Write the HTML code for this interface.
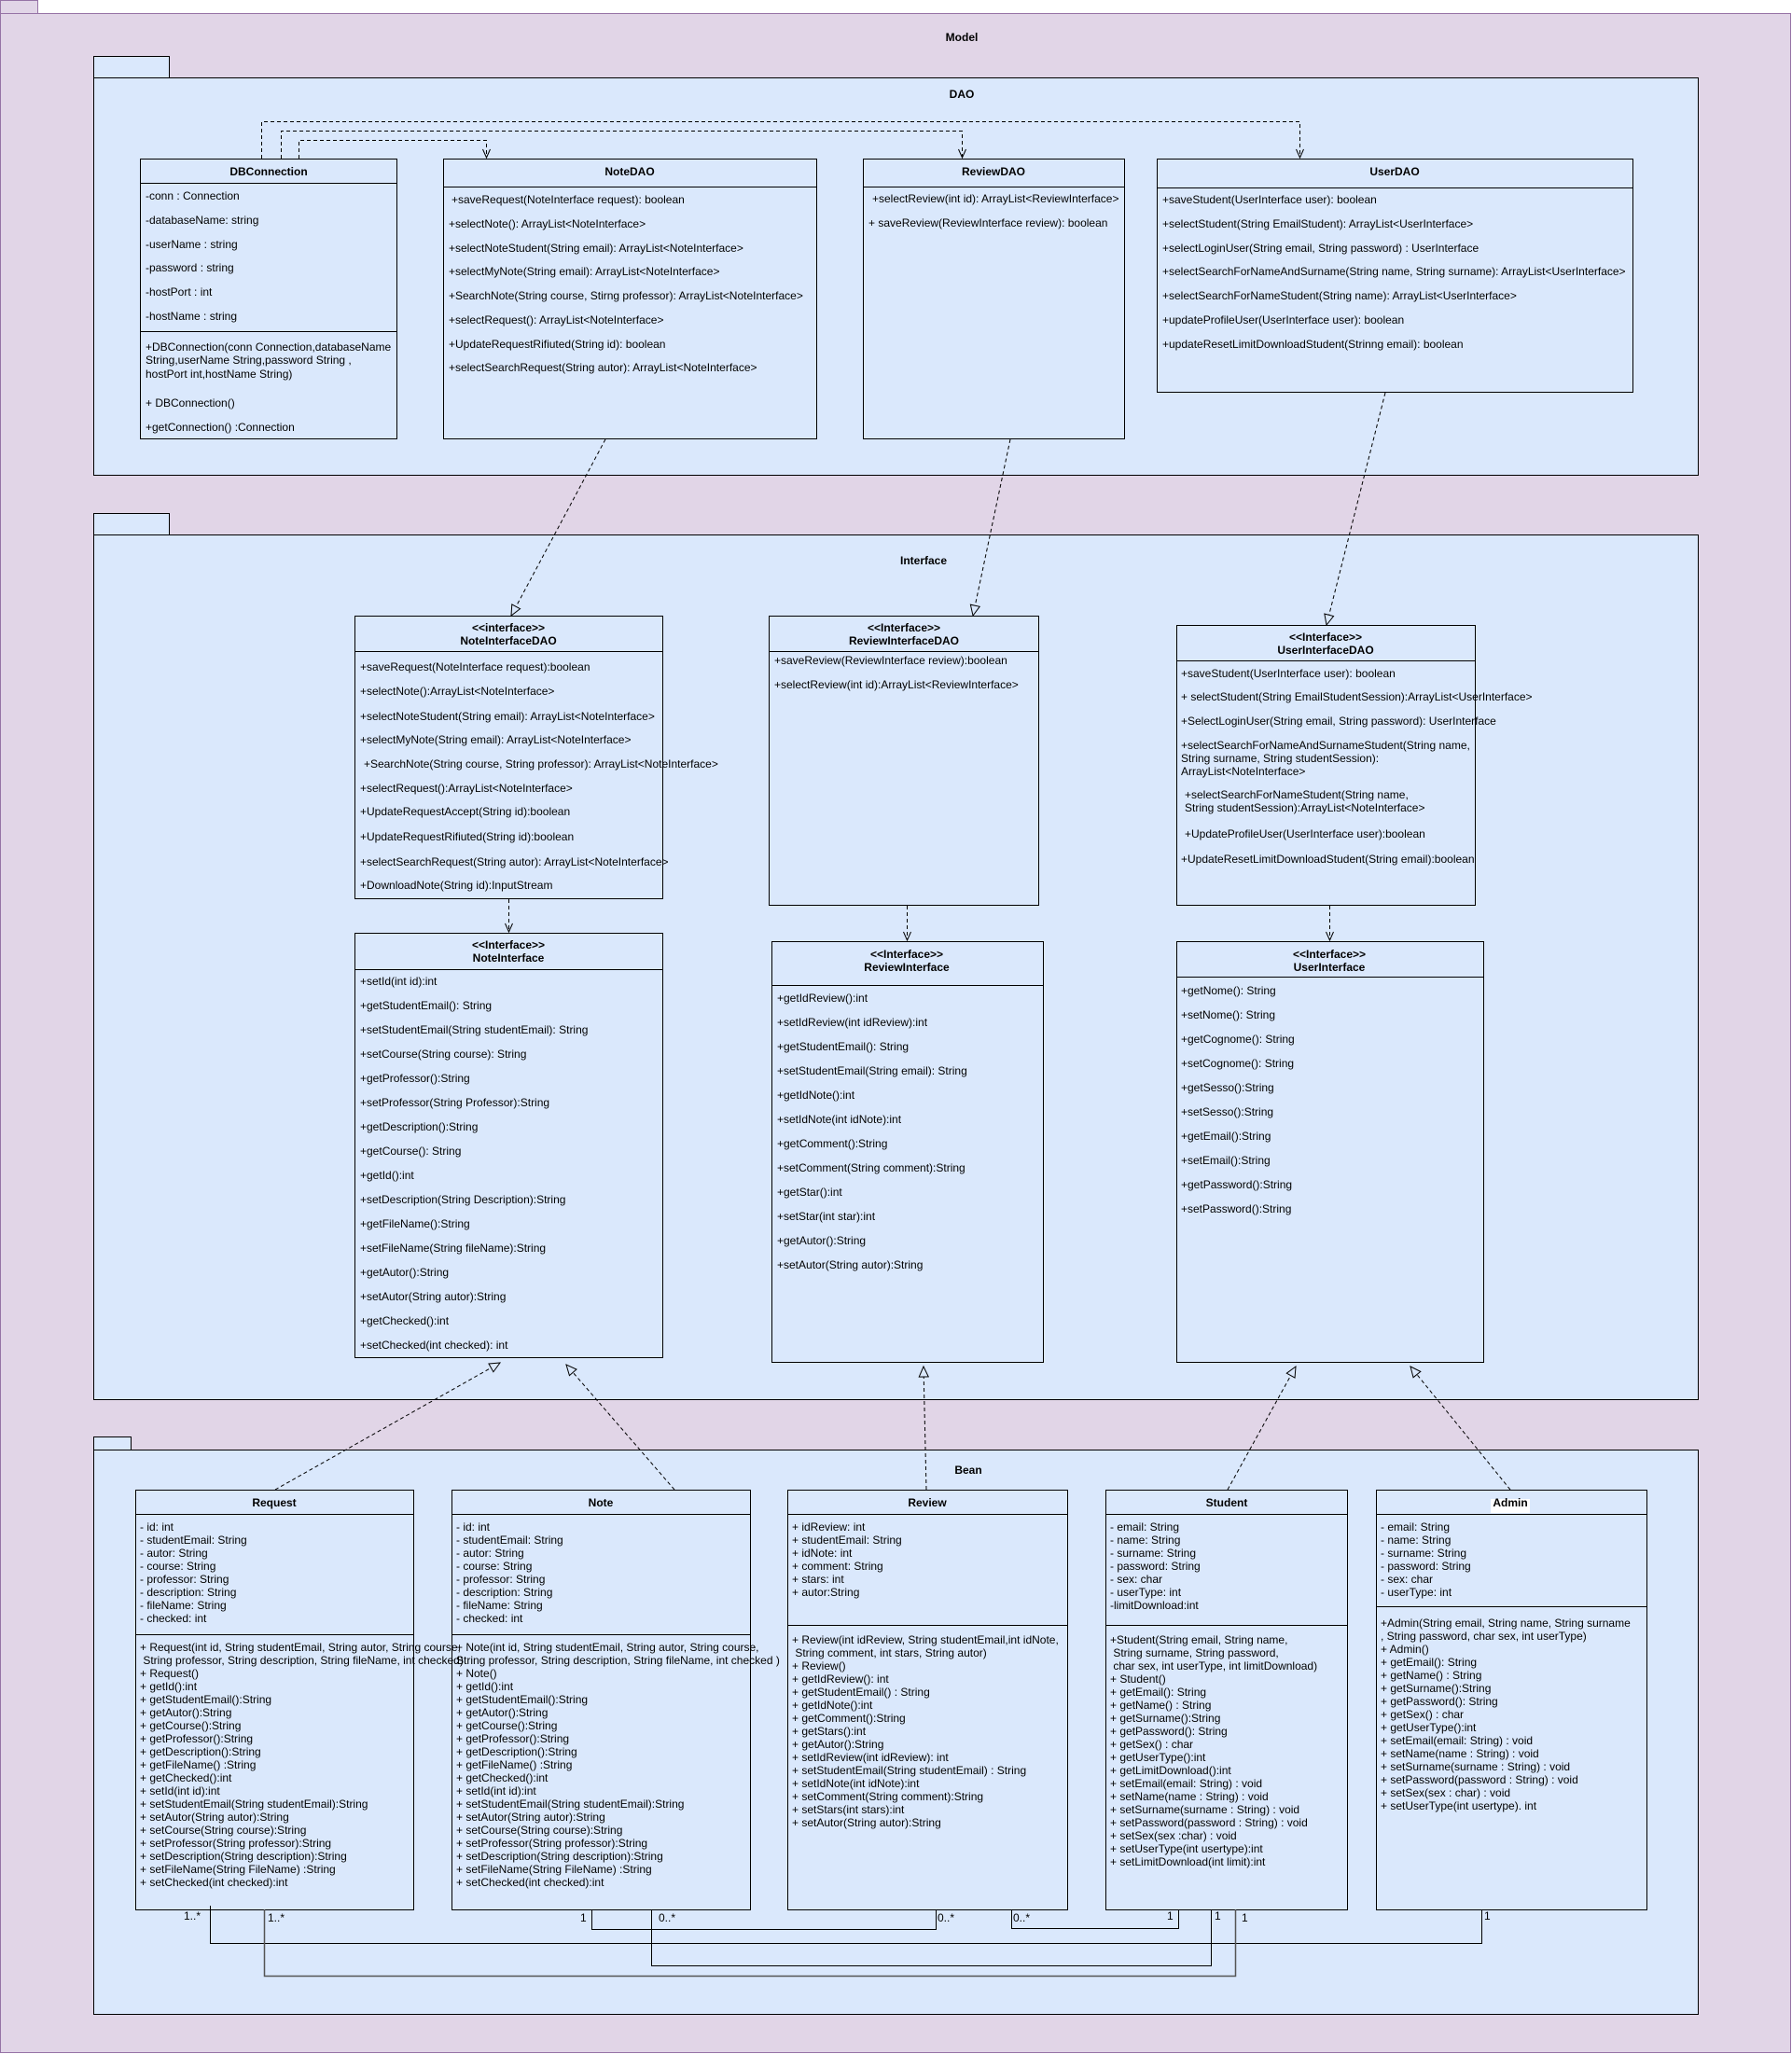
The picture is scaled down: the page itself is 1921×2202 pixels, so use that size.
<!DOCTYPE html>
<html><head><meta charset="utf-8"><style>
html,body{margin:0;padding:0;background:#fff}
svg{display:block}
text{font-family:"Liberation Sans",Arial,sans-serif;font-size:12px;fill:#000}
.b{font-weight:bold}
.c{text-anchor:middle}
</style></head><body>
<svg width="1921" height="2202" viewBox="0 0 1921 2202" xmlns="http://www.w3.org/2000/svg">
<defs>
<marker id="v" markerWidth="12" markerHeight="12" refX="10" refY="5" orient="auto" markerUnits="userSpaceOnUse"><path d="M1,1 L10,5 L1,9" fill="none" stroke="#000" stroke-width="1"/></marker>
<marker id="t" markerWidth="14" markerHeight="14" refX="12" refY="6" orient="auto" markerUnits="userSpaceOnUse"><path d="M1,1 L12,6 L1,11 Z" fill="#dae8fc" stroke="#000" stroke-width="1"/></marker>
</defs>
<!-- Model -->
<rect x="0.5" y="0.5" width="40" height="14" fill="#e1d5e7" stroke="#9673a6"/>
<rect x="0.5" y="14.5" width="1919" height="2186" fill="#e1d5e7" stroke="#9673a6"/>
<text x="1031" y="44" class="b c">Model</text>

<!-- DAO package -->
<rect x="100.5" y="60.5" width="81" height="23" fill="#dae8fc" stroke="#000"/>
<rect x="100.5" y="83.5" width="1720" height="426" fill="#dae8fc" stroke="#000"/>
<text x="1031" y="105" class="b c">DAO</text>

<!-- Interface package -->
<rect x="100.5" y="550.5" width="81" height="23" fill="#dae8fc" stroke="#000"/>
<rect x="100.5" y="573.5" width="1720" height="927" fill="#dae8fc" stroke="#000"/>
<text x="990" y="605" class="b c">Interface</text>

<!-- Bean package -->
<rect x="100.5" y="1540.5" width="40" height="14" fill="#dae8fc" stroke="#000"/>
<rect x="100.5" y="1554.5" width="1720" height="605" fill="#dae8fc" stroke="#000"/>
<text x="1038" y="1580" class="b c">Bean</text>

<g fill="none" stroke="#000" stroke-width="1">
<!-- DBConnection -->
<rect x="150.5" y="170.5" width="275" height="300"/><line x1="150" y1="196.5" x2="426" y2="196.5"/><line x1="150" y1="355.5" x2="426" y2="355.5"/>
<!-- NoteDAO -->
<rect x="475.5" y="170.5" width="400" height="300"/><line x1="475" y1="200.5" x2="876" y2="200.5"/>
<!-- ReviewDAO -->
<rect x="925.5" y="170.5" width="280" height="300"/><line x1="925" y1="200.5" x2="1206" y2="200.5"/>
<!-- UserDAO -->
<rect x="1240.5" y="170.5" width="510" height="250"/><line x1="1240" y1="201.5" x2="1751" y2="201.5"/>
<!-- NoteInterfaceDAO -->
<rect x="380.5" y="660.5" width="330" height="303"/><line x1="380" y1="698.5" x2="711" y2="698.5"/>
<rect x="380.5" y="1000.5" width="330" height="455"/><line x1="380" y1="1039.5" x2="711" y2="1039.5"/>
<rect x="824.5" y="660.5" width="289" height="310"/><line x1="824" y1="698.5" x2="1114" y2="698.5"/>
<rect x="827.5" y="1009.5" width="291" height="451"/><line x1="827" y1="1056.5" x2="1119" y2="1056.5"/>
<rect x="1261.5" y="670.5" width="320" height="300"/><line x1="1261" y1="708.5" x2="1582" y2="708.5"/>
<rect x="1261.5" y="1009.5" width="329" height="451"/><line x1="1261" y1="1047.5" x2="1591" y2="1047.5"/>
<!-- Bean classes -->
<rect x="145.5" y="1597.5" width="298" height="450"/><line x1="145" y1="1623.5" x2="444" y2="1623.5"/><line x1="145" y1="1752.5" x2="444" y2="1752.5"/>
<rect x="484.5" y="1597.5" width="320" height="450"/><line x1="484" y1="1623.5" x2="805" y2="1623.5"/><line x1="484" y1="1752.5" x2="805" y2="1752.5"/>
<rect x="844.5" y="1597.5" width="300" height="450"/><line x1="844" y1="1623.5" x2="1145" y2="1623.5"/><line x1="844" y1="1742.5" x2="1145" y2="1742.5"/>
<rect x="1185.5" y="1597.5" width="259" height="450"/><line x1="1185" y1="1623.5" x2="1445" y2="1623.5"/><line x1="1185" y1="1742.5" x2="1445" y2="1742.5"/>
<rect x="1475.5" y="1597.5" width="290" height="450"/><line x1="1475" y1="1623.5" x2="1766" y2="1623.5"/><line x1="1475" y1="1722.5" x2="1766" y2="1722.5"/>
</g>

<!-- dashed connectors -->
<g fill="none" stroke="#000" stroke-width="1" stroke-dasharray="4,3">
<path d="M320.5,170 V150.5 H521.5 V169" marker-end="url(#v)"/>
<path d="M301.5,170 V140.5 H1031.5 V169" marker-end="url(#v)"/>
<path d="M280.5,170 V130.5 H1393.5 V169" marker-end="url(#v)"/>
<path d="M649,471 L548,660" marker-end="url(#t)"/>
<path d="M1083,471 L1043,660" marker-end="url(#t)"/>
<path d="M1485,421 L1422,670" marker-end="url(#t)"/>
<path d="M545.5,964 V999" marker-end="url(#v)"/>
<path d="M972.5,971 V1008" marker-end="url(#v)"/>
<path d="M1425.5,971 V1008" marker-end="url(#v)"/>
<path d="M295,1597 L536,1461" marker-end="url(#t)"/>
<path d="M723,1597 L607,1463" marker-end="url(#t)"/>
<path d="M993,1597 L990,1465" marker-end="url(#t)"/>
<path d="M1316,1597 L1389,1465" marker-end="url(#t)"/>
<path d="M1619,1597 L1512,1465" marker-end="url(#t)"/>
</g>

<!-- associations -->
<g fill="none" stroke="#000" stroke-width="1">
<path d="M225.5,2043 V2083.5 H1588.5 V2047"/>
<path d="M283.5,2047 V2118.5 H1324.5 V2047" stroke="#555" stroke-width="1.5"/>
<path d="M634.5,2047 V2068.5 H1003.5 V2047"/>
<path d="M698.5,2047 V2107.5 H1298.5 V2047"/>
<path d="M1084.5,2047 V2067.5 H1263.5 V2047"/>
</g>
<g style="font-size:11px">
<text x="197" y="2058">1..*</text><text x="287" y="2060">1..*</text>
<text x="622" y="2060">1</text><text x="706" y="2060">0..*</text>
<text x="1005" y="2060">0..*</text><text x="1086" y="2060">0..*</text>
<text x="1251" y="2058">1</text><text x="1302" y="2058">1</text>
<text x="1331" y="2060">1</text><text x="1591" y="2058">1</text>
</g>

<!-- DBConnection text -->
<text x="288" y="188" class="b c">DBConnection</text>
<text x="156" y="214">-conn : Connection</text>
<text x="156" y="240">-databaseName: string</text>
<text x="156" y="266">-userName : string</text>
<text x="156" y="291">-password : string</text>
<text x="156" y="317">-hostPort : int</text>
<text x="156" y="343">-hostName : string</text>
<text x="156" y="376">+DBConnection(conn Connection,databaseName</text>
<text x="156" y="390">String,userName String,password String ,</text>
<text x="156" y="405">hostPort int,hostName String)</text>
<text x="156" y="436">+ DBConnection()</text>
<text x="156" y="462">+getConnection() :Connection</text>

<!-- NoteDAO -->
<text x="675" y="188" class="b c">NoteDAO</text>
<text x="484" y="218">+saveRequest(NoteInterface request): boolean</text>
<text x="481" y="244">+selectNote(): ArrayList&lt;NoteInterface&gt;</text>
<text x="481" y="270">+selectNoteStudent(String email): ArrayList&lt;NoteInterface&gt;</text>
<text x="481" y="295">+selectMyNote(String email): ArrayList&lt;NoteInterface&gt;</text>
<text x="481" y="321">+SearchNote(String course, Stirng professor): ArrayList&lt;NoteInterface&gt;</text>
<text x="481" y="347">+selectRequest(): ArrayList&lt;NoteInterface&gt;</text>
<text x="481" y="373">+UpdateRequestRifiuted(String id): boolean</text>
<text x="481" y="398">+selectSearchRequest(String autor): ArrayList&lt;NoteInterface&gt;</text>

<!-- ReviewDAO -->
<text x="1065" y="188" class="b c">ReviewDAO</text>
<text x="935" y="217">+selectReview(int id): ArrayList&lt;ReviewInterface&gt;</text>
<text x="931" y="243">+ saveReview(ReviewInterface review): boolean</text>

<!-- UserDAO -->
<text x="1495" y="188" class="b c">UserDAO</text>
<text x="1246" y="218">+saveStudent(UserInterface user): boolean</text>
<text x="1246" y="244">+selectStudent(String EmailStudent): ArrayList&lt;UserInterface&gt;</text>
<text x="1246" y="270">+selectLoginUser(String email, String password) : UserInterface</text>
<text x="1246" y="295">+selectSearchForNameAndSurname(String name, String surname): ArrayList&lt;UserInterface&gt;</text>
<text x="1246" y="321">+selectSearchForNameStudent(String name): ArrayList&lt;UserInterface&gt;</text>
<text x="1246" y="347">+updateProfileUser(UserInterface user): boolean</text>
<text x="1246" y="373">+updateResetLimitDownloadStudent(Strinng email): boolean</text>

<!-- NoteInterfaceDAO -->
<text x="545" y="677" class="b c">&lt;&lt;interface&gt;&gt;</text>
<text x="545" y="691" class="b c">NoteInterfaceDAO</text>
<text x="386" y="719">+saveRequest(NoteInterface request):boolean</text>
<text x="386" y="745">+selectNote():ArrayList&lt;NoteInterface&gt;</text>
<text x="386" y="772">+selectNoteStudent(String email): ArrayList&lt;NoteInterface&gt;</text>
<text x="386" y="797">+selectMyNote(String email): ArrayList&lt;NoteInterface&gt;</text>
<text x="390" y="823">+SearchNote(String course, String professor): ArrayList&lt;NoteInterface&gt;</text>
<text x="386" y="849">+selectRequest():ArrayList&lt;NoteInterface&gt;</text>
<text x="386" y="874">+UpdateRequestAccept(String id):boolean</text>
<text x="386" y="901">+UpdateRequestRifiuted(String id):boolean</text>
<text x="386" y="928">+selectSearchRequest(String autor): ArrayList&lt;NoteInterface&gt;</text>
<text x="386" y="953">+DownloadNote(String id):InputStream</text>

<!-- NoteInterface -->
<text x="545" y="1017" class="b c">&lt;&lt;Interface&gt;&gt;</text>
<text x="545" y="1031" class="b c">NoteInterface</text>
<g>
<text x="386" y="1056">+setId(int id):int</text>
<text x="386" y="1082">+getStudentEmail(): String</text>
<text x="386" y="1108">+setStudentEmail(String studentEmail): String</text>
<text x="386" y="1134">+setCourse(String course): String</text>
<text x="386" y="1160">+getProfessor():String</text>
<text x="386" y="1186">+setProfessor(String Professor):String</text>
<text x="386" y="1212">+getDescription():String</text>
<text x="386" y="1238">+getCourse(): String</text>
<text x="386" y="1264">+getId():int</text>
<text x="386" y="1290">+setDescription(String Description):String</text>
<text x="386" y="1316">+getFileName():String</text>
<text x="386" y="1342">+setFileName(String fileName):String</text>
<text x="386" y="1368">+getAutor():String</text>
<text x="386" y="1394">+setAutor(String autor):String</text>
<text x="386" y="1420">+getChecked():int</text>
<text x="386" y="1446">+setChecked(int checked): int</text>
</g>

<!-- ReviewInterfaceDAO -->
<text x="969" y="677" class="b c">&lt;&lt;Interface&gt;&gt;</text>
<text x="969" y="691" class="b c">ReviewInterfaceDAO</text>
<text x="830" y="712">+saveReview(ReviewInterface review):boolean</text>
<text x="830" y="738">+selectReview(int id):ArrayList&lt;ReviewInterface&gt;</text>

<!-- ReviewInterface -->
<text x="972" y="1027" class="b c">&lt;&lt;Interface&gt;&gt;</text>
<text x="972" y="1041" class="b c">ReviewInterface</text>
<text x="833" y="1074">+getIdReview():int</text>
<text x="833" y="1100">+setIdReview(int idReview):int</text>
<text x="833" y="1126">+getStudentEmail(): String</text>
<text x="833" y="1152">+setStudentEmail(String email): String</text>
<text x="833" y="1178">+getIdNote():int</text>
<text x="833" y="1204">+setIdNote(int idNote):int</text>
<text x="833" y="1230">+getComment():String</text>
<text x="833" y="1256">+setComment(String comment):String</text>
<text x="833" y="1282">+getStar():int</text>
<text x="833" y="1308">+setStar(int star):int</text>
<text x="833" y="1334">+getAutor():String</text>
<text x="833" y="1360">+setAutor(String autor):String</text>

<!-- UserInterfaceDAO -->
<text x="1421" y="687" class="b c">&lt;&lt;Interface&gt;&gt;</text>
<text x="1421" y="701" class="b c">UserInterfaceDAO</text>
<text x="1266" y="726">+saveStudent(UserInterface user): boolean</text>
<text x="1266" y="751">+ selectStudent(String EmailStudentSession):ArrayList&lt;UserInterface&gt;</text>
<text x="1266" y="777">+SelectLoginUser(String email, String password): UserInterface</text>
<text x="1266" y="803">+selectSearchForNameAndSurnameStudent(String name,</text>
<text x="1266" y="817">String surname, String studentSession):</text>
<text x="1266" y="831">ArrayList&lt;NoteInterface&gt;</text>
<text x="1270" y="856">+selectSearchForNameStudent(String name,</text>
<text x="1270" y="870">String studentSession):ArrayList&lt;NoteInterface&gt;</text>
<text x="1270" y="898">+UpdateProfileUser(UserInterface user):boolean</text>
<text x="1266" y="925">+UpdateResetLimitDownloadStudent(String email):boolean</text>

<!-- UserInterface -->
<text x="1425" y="1027" class="b c">&lt;&lt;Interface&gt;&gt;</text>
<text x="1425" y="1041" class="b c">UserInterface</text>
<text x="1266" y="1066">+getNome(): String</text>
<text x="1266" y="1092">+setNome(): String</text>
<text x="1266" y="1118">+getCognome(): String</text>
<text x="1266" y="1144">+setCognome(): String</text>
<text x="1266" y="1170">+getSesso():String</text>
<text x="1266" y="1196">+setSesso():String</text>
<text x="1266" y="1222">+getEmail():String</text>
<text x="1266" y="1248">+setEmail():String</text>
<text x="1266" y="1274">+getPassword():String</text>
<text x="1266" y="1300">+setPassword():String</text>

<!-- Request -->
<text x="294" y="1615" class="b c">Request</text>
<text x="150" y="1641"><tspan x="150">- id: int</tspan><tspan x="150" dy="14">- studentEmail: String</tspan><tspan x="150" dy="14">- autor: String</tspan><tspan x="150" dy="14">- course: String</tspan><tspan x="150" dy="14">- professor: String</tspan><tspan x="150" dy="14">- description: String</tspan><tspan x="150" dy="14">- fileName: String</tspan><tspan x="150" dy="14">- checked: int</tspan></text>
<text x="150" y="1770"><tspan x="150">+ Request(int id, String studentEmail, String autor, String course,</tspan><tspan x="150" dy="14"> String professor, String description, String fileName, int checked)</tspan><tspan x="150" dy="14">+ Request()</tspan><tspan x="150" dy="14">+ getId():int</tspan><tspan x="150" dy="14">+ getStudentEmail():String</tspan><tspan x="150" dy="14">+ getAutor():String</tspan><tspan x="150" dy="14">+ getCourse():String</tspan><tspan x="150" dy="14">+ getProfessor():String</tspan><tspan x="150" dy="14">+ getDescription():String</tspan><tspan x="150" dy="14">+ getFileName() :String</tspan><tspan x="150" dy="14">+ getChecked():int</tspan><tspan x="150" dy="14">+ setId(int id):int</tspan><tspan x="150" dy="14">+ setStudentEmail(String studentEmail):String</tspan><tspan x="150" dy="14">+ setAutor(String autor):String</tspan><tspan x="150" dy="14">+ setCourse(String course):String</tspan><tspan x="150" dy="14">+ setProfessor(String professor):String</tspan><tspan x="150" dy="14">+ setDescription(String description):String</tspan><tspan x="150" dy="14">+ setFileName(String FileName) :String</tspan><tspan x="150" dy="14">+ setChecked(int checked):int</tspan></text>

<!-- Note -->
<text x="644" y="1615" class="b c">Note</text>
<text x="489" y="1641"><tspan x="489">- id: int</tspan><tspan x="489" dy="14">- studentEmail: String</tspan><tspan x="489" dy="14">- autor: String</tspan><tspan x="489" dy="14">- course: String</tspan><tspan x="489" dy="14">- professor: String</tspan><tspan x="489" dy="14">- description: String</tspan><tspan x="489" dy="14">- fileName: String</tspan><tspan x="489" dy="14">- checked: int</tspan></text>
<text x="489" y="1770"><tspan x="489">+ Note(int id, String studentEmail, String autor, String course,</tspan><tspan x="489" dy="14">String professor, String description, String fileName, int checked )</tspan><tspan x="489" dy="14">+ Note()</tspan><tspan x="489" dy="14">+ getId():int</tspan><tspan x="489" dy="14">+ getStudentEmail():String</tspan><tspan x="489" dy="14">+ getAutor():String</tspan><tspan x="489" dy="14">+ getCourse():String</tspan><tspan x="489" dy="14">+ getProfessor():String</tspan><tspan x="489" dy="14">+ getDescription():String</tspan><tspan x="489" dy="14">+ getFileName() :String</tspan><tspan x="489" dy="14">+ getChecked():int</tspan><tspan x="489" dy="14">+ setId(int id):int</tspan><tspan x="489" dy="14">+ setStudentEmail(String studentEmail):String</tspan><tspan x="489" dy="14">+ setAutor(String autor):String</tspan><tspan x="489" dy="14">+ setCourse(String course):String</tspan><tspan x="489" dy="14">+ setProfessor(String professor):String</tspan><tspan x="489" dy="14">+ setDescription(String description):String</tspan><tspan x="489" dy="14">+ setFileName(String FileName) :String</tspan><tspan x="489" dy="14">+ setChecked(int checked):int</tspan></text>

<!-- Review -->
<text x="994" y="1615" class="b c">Review</text>
<text x="849" y="1641"><tspan x="849">+ idReview: int</tspan><tspan x="849" dy="14">+ studentEmail: String</tspan><tspan x="849" dy="14">+ idNote: int</tspan><tspan x="849" dy="14">+ comment: String</tspan><tspan x="849" dy="14">+ stars: int</tspan><tspan x="849" dy="14">+ autor:String</tspan></text>
<text x="849" y="1762"><tspan x="849">+ Review(int idReview, String studentEmail,int idNote,</tspan><tspan x="849" dy="14"> String comment, int stars, String autor)</tspan><tspan x="849" dy="14">+ Review()</tspan><tspan x="849" dy="14">+ getIdReview(): int</tspan><tspan x="849" dy="14">+ getStudentEmail() : String</tspan><tspan x="849" dy="14">+ getIdNote():int</tspan><tspan x="849" dy="14">+ getComment():String</tspan><tspan x="849" dy="14">+ getStars():int</tspan><tspan x="849" dy="14">+ getAutor():String</tspan><tspan x="849" dy="14">+ setIdReview(int idReview): int</tspan><tspan x="849" dy="14">+ setStudentEmail(String studentEmail) : String</tspan><tspan x="849" dy="14">+ setIdNote(int idNote):int</tspan><tspan x="849" dy="14">+ setComment(String comment):String</tspan><tspan x="849" dy="14">+ setStars(int stars):int</tspan><tspan x="849" dy="14">+ setAutor(String autor):String</tspan></text>

<!-- Student -->
<text x="1315" y="1615" class="b c">Student</text>
<text x="1190" y="1641"><tspan x="1190">- email: String</tspan><tspan x="1190" dy="14">- name: String</tspan><tspan x="1190" dy="14">- surname: String</tspan><tspan x="1190" dy="14">- password: String</tspan><tspan x="1190" dy="14">- sex: char</tspan><tspan x="1190" dy="14">- userType: int</tspan><tspan x="1190" dy="14">-limitDownload:int</tspan></text>
<text x="1190" y="1762"><tspan x="1190">+Student(String email, String name,</tspan><tspan x="1190" dy="14"> String surname, String password,</tspan><tspan x="1190" dy="14"> char sex, int userType, int limitDownload)</tspan><tspan x="1190" dy="14">+ Student()</tspan><tspan x="1190" dy="14">+ getEmail(): String</tspan><tspan x="1190" dy="14">+ getName() : String</tspan><tspan x="1190" dy="14">+ getSurname():String</tspan><tspan x="1190" dy="14">+ getPassword(): String</tspan><tspan x="1190" dy="14">+ getSex() : char</tspan><tspan x="1190" dy="14">+ getUserType():int</tspan><tspan x="1190" dy="14">+ getLimitDownload():int</tspan><tspan x="1190" dy="14">+ setEmail(email: String) : void</tspan><tspan x="1190" dy="14">+ setName(name : String) : void</tspan><tspan x="1190" dy="14">+ setSurname(surname : String) : void</tspan><tspan x="1190" dy="14">+ setPassword(password : String) : void</tspan><tspan x="1190" dy="14">+ setSex(sex :char) : void</tspan><tspan x="1190" dy="14">+ setUserType(int usertype):int</tspan><tspan x="1190" dy="14">+ setLimitDownload(int limit):int</tspan></text>

<!-- Admin -->
<rect x="1598" y="1607" width="42" height="15" fill="#fff"/>
<text x="1619" y="1615" class="b c">Admin</text>
<text x="1480" y="1641"><tspan x="1480">- email: String</tspan><tspan x="1480" dy="14">- name: String</tspan><tspan x="1480" dy="14">- surname: String</tspan><tspan x="1480" dy="14">- password: String</tspan><tspan x="1480" dy="14">- sex: char</tspan><tspan x="1480" dy="14">- userType: int</tspan></text>
<text x="1480" y="1744"><tspan x="1480">+Admin(String email, String name, String surname</tspan><tspan x="1480" dy="14">, String password, char sex, int userType)</tspan><tspan x="1480" dy="14">+ Admin()</tspan><tspan x="1480" dy="14">+ getEmail(): String</tspan><tspan x="1480" dy="14">+ getName() : String</tspan><tspan x="1480" dy="14">+ getSurname():String</tspan><tspan x="1480" dy="14">+ getPassword(): String</tspan><tspan x="1480" dy="14">+ getSex() : char</tspan><tspan x="1480" dy="14">+ getUserType():int</tspan><tspan x="1480" dy="14">+ setEmail(email: String) : void</tspan><tspan x="1480" dy="14">+ setName(name : String) : void</tspan><tspan x="1480" dy="14">+ setSurname(surname : String) : void</tspan><tspan x="1480" dy="14">+ setPassword(password : String) : void</tspan><tspan x="1480" dy="14">+ setSex(sex : char) : void</tspan><tspan x="1480" dy="14">+ setUserType(int usertype). int</tspan></text>
</svg>
</body></html>
